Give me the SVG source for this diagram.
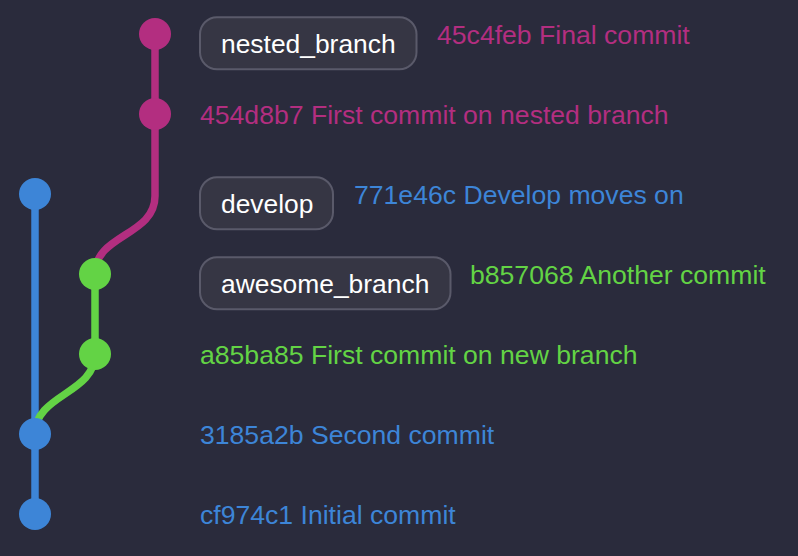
<svg xmlns="http://www.w3.org/2000/svg" width="798" height="556" viewBox="0 0 798 556">
  <style>
    .t { font-family: "Liberation Sans", Arial, Helvetica, sans-serif; font-size: 26.6px; }
    .pill rect { fill: #363644; stroke: #5a5a6a; stroke-width: 2; }
    .pill text { fill: #ffffff; font-size: 26.4px; }
    .line { fill: none; stroke-width: 7.5; stroke-linecap: butt; }
    .blue { fill: #3d85d7; }
    .green { fill: #63d345; }
    .mag { fill: #b32e80; }
    .sblue { stroke: #3d85d7; }
    .sgreen { stroke: #63d345; }
    .smag { stroke: #b32e80; }
  </style>
  <rect width="798" height="556" fill="#2a2b3c"/>

  <g id="connectors">
    <path class="line sblue" d="M35,194 V514"/>
    <path class="line sgreen" d="M95,274 V354 C95,394 35,394 35,434"/>
    <path class="line smag" d="M155,34 V196 C155,236 95,234 95,274"/>
  </g>

  <g id="commit-45c4feb">
    <circle class="mag" cx="155" cy="34" r="16"/>
    <g class="pill">
      <rect x="200" y="17.3" width="216.5" height="52" rx="17"/>
      <text class="t" x="221" y="53.3">nested_branch</text>
    </g>
    <text class="t mag" x="437" y="43.5">45c4feb Final commit</text>
  </g>

  <g id="commit-454d8b7">
    <circle class="mag" cx="155" cy="114" r="16"/>
    <text class="t mag" x="200" y="123.5">454d8b7 First commit on nested branch</text>
  </g>

  <g id="commit-771e46c">
    <circle class="blue" cx="35" cy="194" r="16"/>
    <g class="pill">
      <rect x="200" y="177.3" width="133" height="52" rx="17"/>
      <text class="t" x="221" y="213.3">develop</text>
    </g>
    <text class="t blue" x="354" y="203.5">771e46c Develop moves on</text>
  </g>

  <g id="commit-b857068">
    <circle class="green" cx="95" cy="274" r="16"/>
    <g class="pill">
      <rect x="200" y="257.3" width="250.5" height="52" rx="17"/>
      <text class="t" x="221" y="293.3">awesome_branch</text>
    </g>
    <text class="t green" x="470" y="283.5">b857068 Another commit</text>
  </g>

  <g id="commit-a85ba85">
    <circle class="green" cx="95" cy="354" r="16"/>
    <text class="t green" x="200" y="363.5">a85ba85 First commit on new branch</text>
  </g>

  <g id="commit-3185a2b">
    <circle class="blue" cx="35" cy="434" r="16"/>
    <text class="t blue" x="200" y="443.5">3185a2b Second commit</text>
  </g>

  <g id="commit-cf974c1">
    <circle class="blue" cx="35" cy="514" r="16"/>
    <text class="t blue" x="200" y="523.5">cf974c1 Initial commit</text>
  </g>
</svg>
